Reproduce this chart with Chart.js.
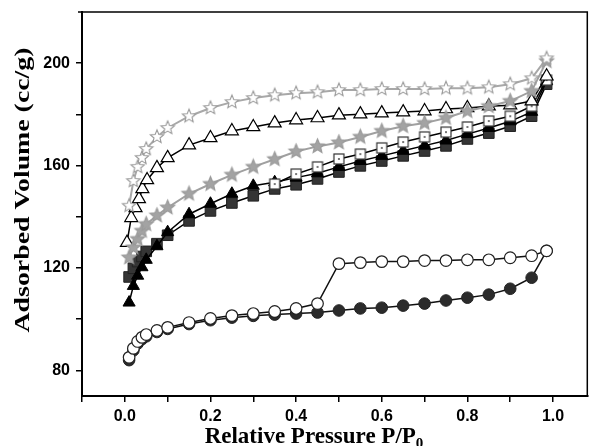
<!DOCTYPE html>
<html>
<head>
<meta charset="utf-8">
<script src="https://cdn.jsdelivr.net/npm/chart.js@4.4.1/dist/chart.umd.min.js"></script>
<style>
  html, body { margin: 0; padding: 0; background: #fff; }
  #wrap { width: 596px; height: 446px; }
</style>
</head>
<body>
<div id="wrap"><canvas id="chart" width="596" height="446"></canvas></div>
<script>
// relative pressure grid (P/P0)
const P = [0.01, 0.02, 0.03, 0.04, 0.05, 0.075, 0.1, 0.15, 0.2, 0.25, 0.3, 0.35, 0.4, 0.45, 0.5, 0.55, 0.6, 0.65, 0.7, 0.75, 0.8, 0.85, 0.9, 0.95, 0.985];
// open triangle branch has one extra low-pressure point
const P_TRI_DES = [0.005, 0.015, 0.025, 0.033, 0.041, 0.052, 0.075, 0.1, 0.15, 0.2, 0.25, 0.3, 0.35, 0.4, 0.45, 0.5, 0.55, 0.6, 0.65, 0.7, 0.75, 0.8, 0.85, 0.9, 0.95, 0.985];

// adsorbed volume (cc/g)
const SQ_ADS   = [116.5, 119.9, 122.5, 124.5, 126.5, 129.5, 132.8, 138.4, 142.3, 145.4, 148.2, 150.9, 152.5, 154.8, 157.5, 159.9, 161.8, 163.8, 165.7, 167.7, 170.4, 172.7, 175.4, 179.3, 191.8];
const SQ_DES   = [null, null, null, null, null, null, null, null, null, null, null, 152.8, 156.7, 159.5, 162.6, 164.5, 166.9, 169.2, 171.2, 173.1, 175.1, 177.4, 179.3, 183.2, 193.4];
const TRI_ADS  = [106.5, 113, 117, 120.3, 123.2, 128.5, 134, 141, 145.1, 149, 152.1, 153.5, 155.3, 157, 159.5, 161.8, 163.8, 165.8, 167.8, 169.8, 172.3, 174.7, 177.3, 181, 193];
const TRI_DES  = [129.9, 139.6, 143.5, 147, 150.9, 154.4, 159.1, 163, 168, 170.8, 173.5, 175.1, 176.6, 177.8, 178.6, 179.7, 180.1, 180.5, 180.9, 181.3, 182.1, 182.5, 183.2, 183.6, 185.2, 194.9];
const STAR_ADS = [124.1, 128, 131.3, 134.5, 137.1, 140.5, 143.6, 149, 152.8, 156.4, 159.5, 162.5, 165.5, 167.5, 169, 171.2, 173.5, 175.4, 176.6, 178.6, 181.3, 183.2, 185.2, 189.1, 200.8];
const STAR_DES = [144.3, 154, 159.5, 163, 166.5, 171.2, 174.7, 179.3, 182.5, 184.8, 186.4, 187.5, 188.3, 188.7, 189.5, 189.5, 189.9, 189.9, 189.9, 190.2, 190.2, 190.6, 191.8, 194.1, 201.9];
const CIR_ADS  = [84, 87.8, 90.5, 92.2, 93.3, 95, 96.2, 98.1, 99.6, 100.6, 101.3, 101.8, 102.2, 102.6, 103.4, 104.2, 104.5, 105.3, 106.1, 107.3, 108.4, 109.6, 111.9, 116.2, 126.7];
const CIR_DES  = [85.1, 88.6, 91.3, 92.9, 94, 95.6, 96.8, 98.7, 100.3, 101.4, 102.2, 103, 104.2, 106.1, 121.7, 122.1, 122.5, 122.5, 122.9, 122.9, 123.2, 123.2, 124, 124.8, 126.7];

// axis ticks
const X_TICKS = [-0.1, 0, 0.1, 0.2, 0.3, 0.4, 0.5, 0.6, 0.7, 0.8, 0.9, 1.0];
const X_LABELS = [0, 0.2, 0.4, 0.6, 0.8, 1.0];
const Y_TICKS = [80, 100, 120, 140, 160, 180, 200];
const Y_LABELS = [80, 120, 160, 200];
const X_TITLE = "Relative Pressure P/P";
const X_TITLE_SUB = "0";
const Y_TITLE = "Adsorbed Volume (cc/g)";

const AREA_TOP = 12;

const pts = (xs, ys) => xs.map((x, i) => ({ x, y: ys[i] }));
const near = (v, list) => list.some(t => Math.abs(t - v) < 1e-6);

// 5-point star marker drawn into a small canvas
function starImg(r, fill, stroke) {
    const s = Math.ceil(r * 2 + 4), c = document.createElement("canvas");
    c.width = s; c.height = s;
    const g = c.getContext("2d");
    g.beginPath();
    for (let i = 0; i < 10; i++) {
        const rr = i % 2 ? r * 0.45 : r, a = -Math.PI / 2 + i * Math.PI / 5;
        g.lineTo(s / 2 + rr * Math.cos(a), s / 2 + rr * Math.sin(a));
    }
    g.closePath();
    g.fillStyle = fill; g.fill();
    g.strokeStyle = stroke; g.lineWidth = 1.1; g.stroke();
    return c;
}

// open square with the small centre dot
function openSquareImg(side) {
    const s = side + 4, c = document.createElement("canvas");
    c.width = s; c.height = s;
    const g = c.getContext("2d");
    g.fillStyle = "#fff"; g.fillRect(2, 2, side, side);
    g.strokeStyle = "#333"; g.lineWidth = 1.2; g.strokeRect(2, 2, side, side);
    g.fillStyle = "#777"; g.fillRect(s / 2 - 1, s / 2 - 1, 2, 2);
    return c;
}

const framePlugin = {
    id: "frameAndTitles",
    afterDraw(chart) {
        const { ctx, chartArea: a } = chart;
        ctx.save();
        ctx.strokeStyle = "#000"; ctx.lineWidth = 1.5;
        ctx.beginPath(); ctx.moveTo(a.left - 4, a.top); ctx.lineTo(a.right, a.top); ctx.lineTo(a.right, a.bottom); ctx.stroke();

        // y title, stretched along its length like the original figure
        ctx.fillStyle = "#000";
        ctx.font = 'bold 21px "Liberation Serif", serif';
        ctx.translate(24, 190); ctx.rotate(-Math.PI / 2);
        const w = ctx.measureText(Y_TITLE).width;
        ctx.scale(285 / w, 1);
        ctx.textAlign = "center"; ctx.textBaseline = "middle";
        ctx.fillText(Y_TITLE, 0, 0);
        ctx.restore();

        // x title with subscript 0
        ctx.save();
        ctx.fillStyle = "#000";
        ctx.font = 'bold 23px "Liberation Serif", serif';
        const w1 = ctx.measureText(X_TITLE).width;
        ctx.font = 'bold 15px "Liberation Serif", serif';
        const w2 = ctx.measureText(X_TITLE_SUB).width;
        const x0 = 314 - (w1 + w2) / 2;
        ctx.textBaseline = "alphabetic"; ctx.textAlign = "left";
        ctx.font = 'bold 23px "Liberation Serif", serif';
        ctx.fillText(X_TITLE, x0, 443);
        ctx.font = 'bold 15px "Liberation Serif", serif';
        ctx.fillText(X_TITLE_SUB, x0 + w1, 448);
        ctx.restore();
    }
};

const xFont = { family: '"Liberation Sans", Arial, sans-serif', size: 16, weight: "bold" };
// small lineHeight keeps the top label from pushing the plot box down
const yFont = { family: '"Liberation Sans", Arial, sans-serif', size: 16, weight: "bold", lineHeight: 0.6 };
const axisGrid = { display: true, drawOnChartArea: false, drawTicks: true, tickLength: 6, color: "#000", lineWidth: 1.5 };
const axisBorder = { display: true, color: "#000", width: 2 };

const chart = new Chart(document.getElementById("chart"), {
    type: "line",
    data: {
        datasets: [
            { data: pts(P, CIR_DES), borderColor: "#111", borderWidth: 1.5, pointStyle: "circle", pointRadius: 5.8, pointBackgroundColor: "#fff", pointBorderColor: "#222", pointBorderWidth: 1.2, order: 1 },
            { data: pts(P, CIR_ADS), borderColor: "#111", borderWidth: 1.5, pointStyle: "circle", pointRadius: 5.8, pointBackgroundColor: "#2b2b2b", pointBorderColor: "#222", pointBorderWidth: 1, order: 2 },
            { data: pts(P, STAR_DES), borderColor: "#a8a8a8", borderWidth: 2, pointStyle: starImg(7, "#fff", "#9a9a9a"), order: 3 },
            { data: pts(P, STAR_ADS), borderColor: "#a0a0a0", borderWidth: 2, pointStyle: starImg(7.5, "#a3a3a3", "#999"), order: 4 },
            { data: pts(P_TRI_DES, TRI_DES), borderColor: "#000", borderWidth: 1.5, pointStyle: "triangle", pointRadius: 7.5, pointBackgroundColor: "#fff", pointBorderColor: "#000", pointBorderWidth: 1.2, order: 5 },
            { data: pts(P, SQ_DES), borderColor: "#000", borderWidth: 1.5, pointStyle: openSquareImg(10), order: 6 },
            { data: pts(P, TRI_ADS), borderColor: "#000", borderWidth: 1.5, pointStyle: "triangle", pointRadius: 7, pointBackgroundColor: "#000", pointBorderColor: "#000", pointBorderWidth: 1, order: 7 },
            { data: pts(P, SQ_ADS), borderColor: "#000", borderWidth: 1.5, pointStyle: "rect", pointRadius: 7.5, pointBackgroundColor: "#353535", pointBorderColor: "#222", pointBorderWidth: 1, order: 8 }
        ]
    },
    options: {
        responsive: false,
        animation: false,
        events: [],
        spanGaps: false,
        layout: { padding: { top: AREA_TOP, right: 0, left: 0, bottom: 0 } },
        plugins: { legend: { display: false }, tooltip: { enabled: false } },
        scales: {
            x: {
                // max chosen so 0.0 and 1.0 land where the original puts them
                type: "linear", min: -0.1, max: 1.08,
                afterBuildTicks: s => { s.ticks = X_TICKS.map(v => ({ value: v })); },
                afterFit: s => { s.height = 50; },
                ticks: { autoSkip: false, maxRotation: 0, color: "#000", font: xFont, padding: 5,
                    callback: v => near(v, X_LABELS) ? v.toFixed(1) : "" },
                grid: axisGrid, border: axisBorder
            },
            y: {
                type: "linear", min: 70, max: 220,
                afterBuildTicks: s => { s.ticks = Y_TICKS.map(v => ({ value: v })); },
                afterFit: s => { s.width = 82; },
                ticks: { autoSkip: false, color: "#000", font: yFont, padding: 6,
                    callback: v => near(v, Y_LABELS) ? String(v) : "" },
                grid: axisGrid, border: axisBorder
            }
        }
    },
    plugins: [framePlugin]
});

// keep the top of the plot box where the original's is
for (let k = 0; k < 3; k++) {
    const a = chart.chartArea, pad = chart.options.layout.padding;
    const dt = AREA_TOP - a.top;
    if (Math.abs(dt) < 0.5) break;
    pad.top = Math.max(0, pad.top + dt);
    chart.update();
}
</script>
</body>
</html>
